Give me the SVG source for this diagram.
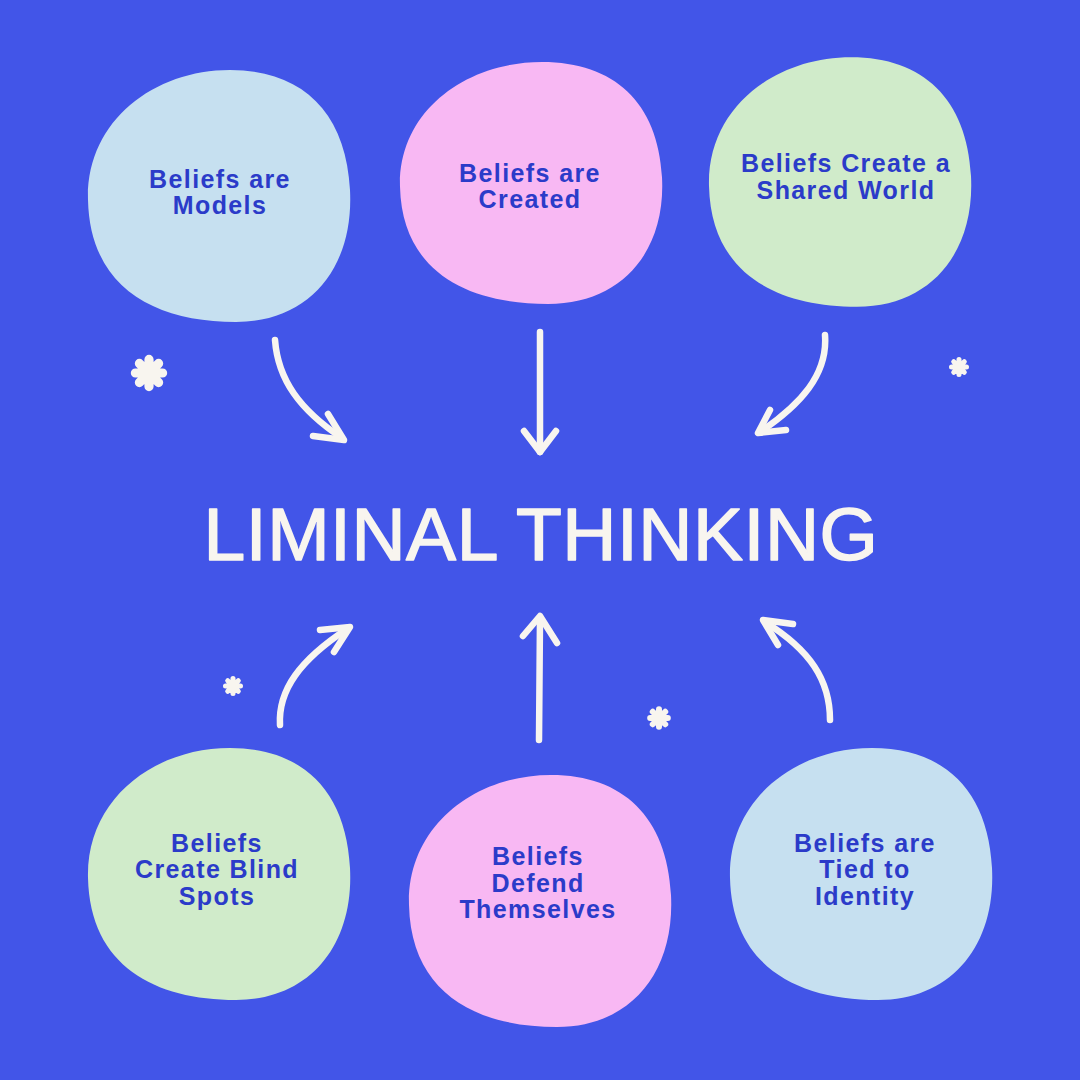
<svg xmlns="http://www.w3.org/2000/svg" xmlns:xlink="http://www.w3.org/1999/xlink" width="1080" height="1080" viewBox="0 0 1080 1080">
<style>
.lbl{font-family:"Liberation Sans","DejaVu Sans",sans-serif;font-weight:bold;font-size:25px;fill:#2B3BC9;text-anchor:middle;letter-spacing:1.4px}
.title{font-family:"Liberation Sans","DejaVu Sans",sans-serif;font-size:75px;fill:#F8F5EF;stroke:#F8F5EF;stroke-width:1.5;stroke-linejoin:round;text-anchor:middle;letter-spacing:0.5px}
.arrow{fill:none;stroke:#F8F5EF;stroke-width:6.5;stroke-linecap:round;stroke-linejoin:round}
.blue{fill:#C6E0F0}.pink{fill:#F8B8F3}.green{fill:#D0EBCA}
</style>
<defs>
<path id="blob" d="M 11,-126 C 83,-126 127,-84 131,-6 C 135,72 90,126 17,126 C -64,126 -129,92 -131,4 C -133,-74 -66,-126 11,-126 Z"/>
<g id="star">
<path d="M0,0 L0,-6.8 M0,0 L4.8,-4.8 M0,0 L6.8,0 M0,0 L4.8,4.8 M0,0 L0,6.8 M0,0 L-4.8,4.8 M0,0 L-6.8,0 M0,0 L-4.8,-4.8" stroke="#F8F5EF" stroke-width="4.6" stroke-linecap="round" fill="none"/>
<circle r="3.8" fill="#F8F5EF"/>
</g>
</defs>
<rect width="1080" height="1080" fill="#4255E8"/>

<g id="node-models">
<use xlink:href="#blob" href="#blob" class="blue" transform="translate(219,196)"/>
<text class="lbl" x="220" y="188">Beliefs are</text>
<text class="lbl" x="220" y="214">Models</text>
</g>
<g id="node-created">
<use xlink:href="#blob" href="#blob" class="pink" transform="translate(531,183) scale(1,0.96)"/>
<text class="lbl" x="530" y="182">Beliefs are</text>
<text class="lbl" x="530" y="208">Created</text>
</g>
<g id="node-shared">
<use xlink:href="#blob" href="#blob" class="green" transform="translate(840,182) scale(1,0.99)"/>
<text class="lbl" x="846" y="172">Beliefs Create a</text>
<text class="lbl" x="846" y="199">Shared World</text>
</g>
<g id="node-blind">
<use xlink:href="#blob" href="#blob" class="green" transform="translate(219,874)"/>
<text class="lbl" x="217" y="852">Beliefs</text>
<text class="lbl" x="217" y="878">Create Blind</text>
<text class="lbl" x="217" y="905">Spots</text>
</g>
<g id="node-defend">
<use xlink:href="#blob" href="#blob" class="pink" transform="translate(540,901)"/>
<text class="lbl" x="538" y="865">Beliefs</text>
<text class="lbl" x="538" y="892">Defend</text>
<text class="lbl" x="538" y="918">Themselves</text>
</g>
<g id="node-identity">
<use xlink:href="#blob" href="#blob" class="blue" transform="translate(861,874)"/>
<text class="lbl" x="865" y="852">Beliefs are</text>
<text class="lbl" x="865" y="878">Tied to</text>
<text class="lbl" x="865" y="905">Identity</text>
</g>

<g id="node-title">
<text class="title" x="541" y="560">LIMINAL THINKING</text>
</g>

<g id="connectors">
<path class="arrow" d="M275,340 C 278,380 300,410 342,438"/>
<path class="arrow" d="M313,436 L344,440 L328,414"/>
<path class="arrow" d="M540,332 L540,452"/>
<path class="arrow" d="M524,431 L540,452 L556,431"/>
<path class="arrow" d="M825,335 C 828,375 800,405 760,432"/>
<path class="arrow" d="M770,410 L758,433 L786,430"/>
<path class="arrow" d="M280,725 C 278,690 300,660 347,629"/>
<path class="arrow" d="M320,630 L350,627 L334,652"/>
<path class="arrow" d="M539,740 L540,618"/>
<path class="arrow" d="M523,636 L540,616 L557,643"/>
<path class="arrow" d="M830,720 C 830,680 810,650 765,622"/>
<path class="arrow" d="M793,624 L763,620 L778,645"/>
</g>

<g id="stars">
<use xlink:href="#star" href="#star" transform="translate(149,373) scale(2)"/>
<use xlink:href="#star" href="#star" transform="translate(959,367) scale(1.1)"/>
<use xlink:href="#star" href="#star" transform="translate(233,686) scale(1.1)"/>
<use xlink:href="#star" href="#star" transform="translate(659,718) scale(1.3)"/>
</g>
</svg>
